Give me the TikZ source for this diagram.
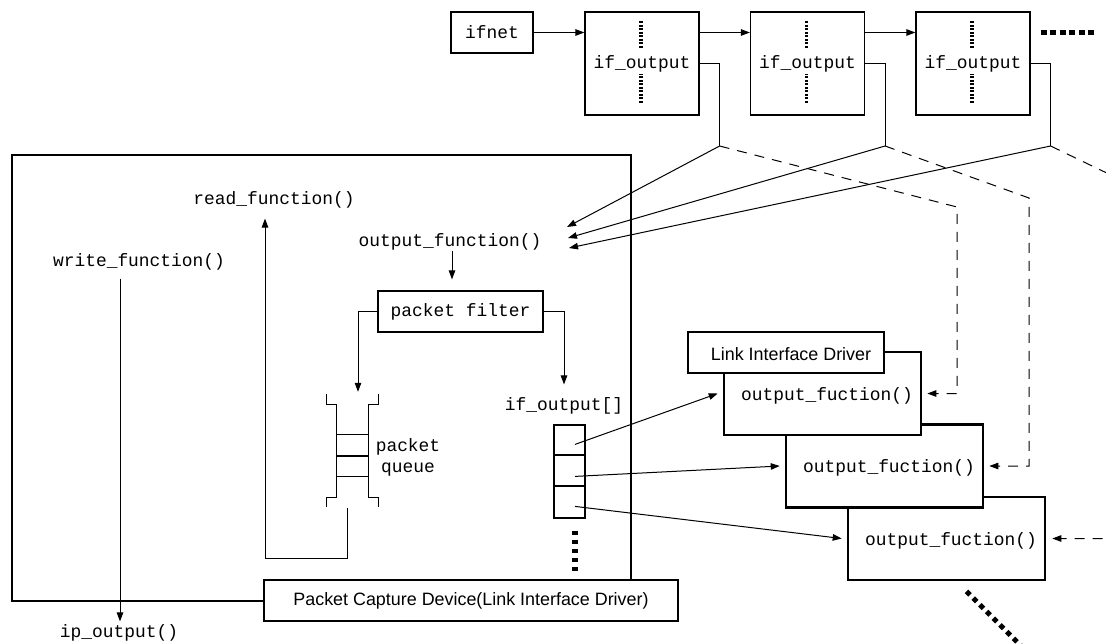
\documentclass[tikz,border=0pt]{standalone}
\usepackage{fontspec}
\setmainfont{Liberation Sans}
\setsansfont{Liberation Sans}
\setmonofont{Liberation Mono}
\usetikzlibrary{arrows.meta,calc}
\newcommand{\codefont}{\ttfamily\fontsize{17.9}{21}\selectfont}
\newcommand{\labfont}{\sffamily\fontsize{17.9}{21}\selectfont}
\tikzset{pin/.style={-{Triangle[length=9pt,width=6.5pt]}, line width=1pt},
  dpin/.style={pin, dash pattern=on 10pt off 8pt},
  blk/.style={draw, line width=1.2pt, fill=white, inner sep=0pt},
  drv/.style={draw, line width=2.6pt, fill=white, inner sep=0pt, minimum width=197pt, minimum height=83pt},
  fn/.style={inner sep=0pt},
  ptrdots/.style={line width=3.5pt, dash pattern=on 2pt off 1.5pt},
  moredots/.style={line width=5pt, dash pattern=on 5pt off 4.5pt}}

\begin{document}
\begin{tikzpicture}[x=1pt, y=-1pt, font=\codefont]
  \useasboundingbox (0,0) rectangle (1106,643);
  \clip (0,0) rectangle (1106,643);
  % interface list
  \node[blk, minimum width=82pt, minimum height=41pt] (ifnet) at (492,32.5) {ifnet};
  \foreach \i/\x in {1/642, 2/807.5, 3/973}{
    \node[blk, minimum width=114pt, minimum height=103pt] (ifo\i) at (\x,63.5) {if\_output};
    \draw[ptrdots] ($(ifo\i.north)+(-1,10)$) -- ++(0,28);
    \draw[ptrdots] ($(ifo\i.south)+(-1,-13)$) -- ++(0,-29);
    \coordinate (br\i) at ($(ifo\i.east)+(20,82.5)$);
    \draw[line width=1pt] (ifo\i.east) -| (br\i);
  }
  \draw[pin] (ifnet.east) -- (ifnet.east -| ifo1.west);
  \draw[pin] (ifo1.east |- ifnet) -- (ifo2.west |- ifnet);
  \draw[pin] (ifo2.east |- ifnet) -- (ifo3.west |- ifnet);
  \draw[line width=4.5pt, dash pattern=on 6pt off 3.5pt] ($(ifo3.east |- ifnet)+(10,0)$) -- ++(56,0);

  % capture device
  \node[draw, line width=2.6pt, inner sep=0pt, minimum width=619pt, minimum height=446pt] (bpf) at (321.5,378) {};
  \node[blk, minimum width=414pt, minimum height=41pt, font=\labfont] (pcd) at (471,600.5) {Packet Capture Device(Link Interface Driver)};
  \node[fn] (rd) at (274,200) {read\_function()};
  \node[fn] (wr) at (139,262) {write\_function()};
  \node[fn] (ipo) at (119,633) {ip\_output()};
  \node[fn] (outfn) at (450,242) {output\_function()};
  \node[blk, minimum width=165pt, minimum height=41pt] (pf) at (460.5,311.5) {packet filter};
  \node[fn] (ifarr) at (564,406) {if\_output[]};

  % packet queue
  \node[inner sep=0pt, minimum width=31pt, minimum height=92pt] (q) at (352.5,451) {};
  \draw[line width=1pt] (q.north west) -- (q.south west) (q.north east) -- (q.south east);
  \draw[line width=1pt] (q.north west) -- ++(-10,0) -- ++(0,-11);
  \draw[line width=1pt] (q.north east) -- ++(10,0) -- ++(0,-11);
  \draw[line width=1pt] (q.south west) -- ++(-10,0) -- ++(0,10);
  \draw[line width=1pt] (q.south east) -- ++(10,0) -- ++(0,10);
  \foreach \y/\w in {30/1pt, 51/2pt, 72/1pt}
    \draw[line width=\w] ($(q.north west)+(0,\y)$) -- ($(q.north east)+(0,\y)$);
  \node[fn, align=center] (qlbl) at (408,457.5) {packet\\queue};

  % if_output[] slots
  \node[blk, minimum width=31pt, minimum height=93pt] (slots) at (569.5,471.5) {};
  \foreach \y in {31,62}
    \draw[line width=2pt] ($(slots.north west)+(0,\y)$) -- ($(slots.north east)+(0,\y)$);
  \coordinate (s1) at ($(slots.north)+(5.5,20)$);
  \coordinate (s2) at ($(slots.north)+(5.5,52)$);
  \coordinate (s3) at ($(slots.north)+(5.5,82)$);
  \draw[line width=6pt, dash pattern=on 4.5pt off 4.5pt] ($(slots.south)+(5.5,12)$) -- ++(0,44);

  % link interface drivers
  \foreach \n/\x/\y in {C/946.5/538.5, B/884.5/466, A/822.5/393.5}{
    \node[drv] (of\n) at (\x,\y) {};
    \node[fn] (oft\n) at ($(of\n.center)+(4.5,2)$) {output\_fuction()};
  }
  \node[blk, minimum width=196pt, minimum height=41pt] (lid) at (786,352.5) {};
  \node[fn, font=\labfont] (lidt) at ($(lid.center)+(5,2)$) {Link Interface Driver};
  \draw[moredots] ($(ofC.south)+(20,10)$) -- ++(60,60);

  % flows
  \draw[pin] ($(outfn.south)+(2,0)$) -- ($(pf.north)+(-8.5,-11)$);
  \draw[pin] (pf.west) -| ($(q.north)+(5.5,-13)$);
  \draw[pin] (pf.east) -| ($(ifarr.north)+(0,-13)$);
  \draw[pin] ($(wr.south)+(-19,8)$) -- ($(ipo.north)+(1,-3)$);
  \coordinate (lp) at (265,558);
  \draw[pin] ($(q.south)+(-5.5,11)$) |- (lp) -- ($(rd.south -| lp)+(0,10)$);
  \coordinate (in1) at (567,227);
  \coordinate (in2) at (568,238);
  \coordinate (in3) at (569,248);
  \foreach \i in {1,2,3}
    \draw[pin] (br\i) -- (in\i);
  \foreach \k/\n in {1/A,2/B,3/C}
    \draw[pin] (s\k) -- ([xshift=-5pt]of\n.west);
  \coordinate (kA) at (957,207);
  \coordinate (kB) at (1029,198);
  \coordinate (kC) at (1140,189);
  \draw[dpin] (br1) -- (kA) |- ([xshift=5pt]ofA.east);
  \draw[dpin] (br2) -- (kB) |- ([xshift=5pt]ofB.east);
  \draw[dpin] (br3) -- (kC) |- ([xshift=6pt]ofC.east);
\end{tikzpicture}
\end{document}
